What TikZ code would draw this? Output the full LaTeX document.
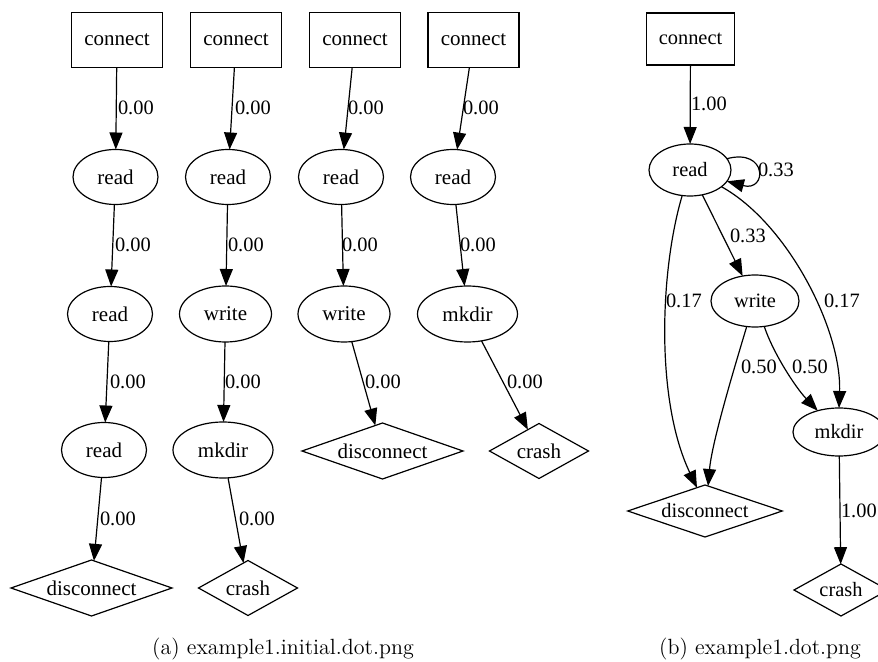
\documentclass[tikz,border=0pt]{standalone}
\usepackage{fontspec}
\usetikzlibrary{shapes.geometric,arrows.meta}
\newfontfamily\gvfont{Liberation Serif}

\tikzset{
  every node/.style={inner sep=0pt, outer sep=0pt},
  gvbox/.style={draw, rectangle, line width=0.6pt, minimum width=45.5pt, minimum height=27.5pt,
    font=\gvfont\fontsize{10.5}{12}\selectfont},
  gvell/.style={draw, ellipse, line width=0.6pt, minimum width=42.5pt, minimum height=27.5pt,
    font=\gvfont\fontsize{10.5}{12}\selectfont},
  gvdia/.style={draw, diamond, line width=0.6pt, aspect=2.875, minimum width=80.5pt, minimum height=28pt,
    font=\gvfont\fontsize{10.5}{12}\selectfont},
  wide/.style={minimum width=46pt, minimum height=28pt},
  wider/.style={minimum width=50pt, minimum height=28pt},
  small/.style={aspect=1.8, minimum width=49.5pt, minimum height=27.5pt},
  rbox/.style={gvbox, minimum width=43.8pt, minimum height=26pt, font=\gvfont\fontsize{10.2}{12}\selectfont},
  rell/.style={gvell, font=\gvfont\fontsize{10.2}{12}\selectfont},
  rdia/.style={gvdia, font=\gvfont\fontsize{10.2}{12}\selectfont},
  lbl/.style={anchor=west, font=\gvfont\fontsize{10.2}{12}\selectfont},
  edge/.style={draw, line width=0.6pt, -{Triangle[length=8.5pt,width=6.5pt]}},
  caption/.style={anchor=base, font=\fontsize{11}{13}\selectfont},
}

\begin{document}
\begin{tikzpicture}[x=0.5pt, y=-0.5pt]
\useasboundingbox (0,0) rectangle (878,662);
\clip (0,0) rectangle (878,662);

% ---------- (a) four initial traces ----------
% trace 1
\node[gvbox] (c1)  at (117,40)    {connect};
\node[gvell] (r11) at (115.5,177) {read};
\node[gvell] (r12) at (110,314)   {read};
\node[gvell] (r13) at (104,450)   {read};
\node[gvdia] (d14) at (91.5,588)  {disconnect};
% trace 2
\node[gvbox] (c2)  at (236,40)    {connect};
\node[gvell] (r21) at (228,177)   {read};
\node[gvell, wide]  (w22) at (225.5,314) {write};
\node[gvell, wider] (m23) at (223,450)   {mkdir};
\node[gvdia, small] (x24) at (248,588)   {crash};
% trace 3
\node[gvbox] (c3)  at (355,40)    {connect};
\node[gvell] (r31) at (341,177)   {read};
\node[gvell, wide] (w32) at (344,314) {write};
\node[gvdia] (d33) at (382.5,451) {disconnect};
% trace 4
\node[gvbox] (c4)  at (473.5,40)  {connect};
\node[gvell] (r41) at (453,177)   {read};
\node[gvell, wider] (m42) at (467.5,314) {mkdir};
\node[gvdia, small] (x43) at (539,451)   {crash};

\draw[edge] (c1) -- (r11);  \node[lbl] (l11) at (118,108) {0.00};
\draw[edge] (r11) -- (r12); \node[lbl] (l12) at (115,245) {0.00};
\draw[edge] (r12) -- (r13); \node[lbl] (l13) at (110,382) {0.00};
\draw[edge] (r13) -- (d14); \node[lbl] (l14) at (100,519) {0.00};

\draw[edge] (c2) -- (r21);  \node[lbl] (l21) at (235,108) {0.00};
\draw[edge] (r21) -- (w22); \node[lbl] (l22) at (228,245) {0.00};
\draw[edge] (w22) -- (m23); \node[lbl] (l23) at (225,382) {0.00};
\draw[edge] (m23) -- (x24); \node[lbl] (l24) at (239,519) {0.00};

\draw[edge] (c3) -- (r31);  \node[lbl] (l31) at (348,108) {0.00};
\draw[edge] (r31) -- (w32); \node[lbl] (l32) at (342,245) {0.00};
\draw[edge] (w32) -- (d33); \node[lbl] (l33) at (365,382) {0.00};

\draw[edge] (c4) -- (r41);  \node[lbl] (l41) at (463,108) {0.00};
\draw[edge] (r41) -- (m42); \node[lbl] (l42) at (460,245) {0.00};
\draw[edge] (m42) -- (x43); \node[lbl] (l43) at (507,382) {0.00};

% ---------- (b) merged model ----------
\node[rbox] (mc) at (690.5,39) {connect};
\node[rell, minimum width=41pt, minimum height=26pt] (mr) at (690,170) {read};
\node[rell, minimum width=44pt, minimum height=26pt] (mw) at (755,301) {write};
\node[rell, minimum width=46pt, minimum height=24pt] (mm) at (839,432) {mkdir};
\node[rdia, aspect=2.97, minimum width=77.3pt, minimum height=26pt] (md) at (705,511) {disconnect};
\node[rdia, aspect=1.8, minimum width=47pt, minimum height=26pt] (mx) at (841,590) {crash};

\draw[edge] (mc) -- (mr);
\node[lbl] (b1) at (691,104) {1.00};
\draw[edge] (mr.17) to[out=15, in=-15, distance=21pt] (mr.-17);
\node[lbl] (b2) at (758,170) {0.33};
\draw[edge] (mr) -- (mw);
\node[lbl] (b3) at (730,236) {0.33};
\draw[edge] (mr.-107) to[out=-106.6, in=115.5, out distance=38.6pt, in distance=48.7pt] (md.109);
\node[lbl] (b4) at (666,301) {0.17};
\draw[edge] (mr.-28) to[out=-29, in=88, out distance=38pt, in distance=39pt] (mm.north);
\node[lbl] (b5) at (824,301) {0.17};
\draw[edge] (mw.-108) to[out=-106.6, in=85, out distance=19pt, in distance=22.6pt] (md.83);
\node[lbl] (b6) at (741,367) {0.50};
\draw[edge] (mw.-70) to[out=-71.6, in=133.7, out distance=14pt, in distance=16pt] (mm.135);
\node[lbl] (b7) at (792,367) {0.50};
\draw[edge] (mm) -- (mx);
\node[lbl] (b8) at (841,511) {1.00};

% ---------- captions ----------
\node[caption] (capa) at (283,654) {(a) example1.initial.dot.png};
\node[caption] (capb) at (760,654) {(b) example1.dot.png};
\end{tikzpicture}
\end{document}
